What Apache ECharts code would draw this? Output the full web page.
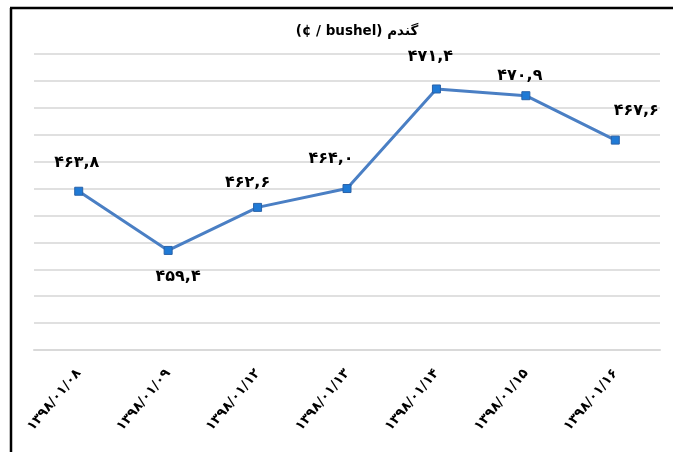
<!DOCTYPE html>
<html>
<head>
<meta charset="utf-8">
<script src="https://cdn.jsdelivr.net/npm/echarts@6/dist/echarts.min.js"></script>
<style>
html,body{margin:0;padding:0;background:#fff;}
#c{width:673px;height:452px;}
</style>
</head>
<body>
<div id="c"></div>
<script>
var titleText = '(¢ / bushel) گندم';
var categories = ['۱۳۹۸/۰۱/۰۸','۱۳۹۸/۰۱/۰۹','۱۳۹۸/۰۱/۱۲','۱۳۹۸/۰۱/۱۳','۱۳۹۸/۰۱/۱۴','۱۳۹۸/۰۱/۱۵','۱۳۹۸/۰۱/۱۶'];
var values = [463.8, 459.4, 462.6, 464.0, 471.4, 470.9, 467.6];
var yMin = 452, yMax = 474, yStep = 2;

// label layout (offsets from the marker centre)
var labelOffsets = [[-2,-28],[10,26],[-10,-25],[-16,-30],[-6,-32],[-6,-20],[21,-29]];

function toFa(v){
  var d = '۰۱۲۳۴۵۶۷۸۹';
  return v.toFixed(1).replace('.', ',').replace(/[0-9]/g, function(c){ return d[+c]; });
}

var chart = echarts.init(document.getElementById('c'));
var seriesData = values.map(function(v, i){
  return {
    value: v,
    label: { offset: labelOffsets[i] }
  };
});
chart.setOption({
  backgroundColor: '#fff',
  animation: false,
  title: {
    text: titleText,
    left: 352,
    top: 19,
    textAlign: 'center',
    textStyle: { fontFamily: 'DejaVu Sans, Liberation Sans, sans-serif', fontSize: 13.5, fontWeight: 'bold', color: '#000' }
  },
  grid: { left: 34, right: 13, top: 54, bottom: 102, containLabel: false },
  xAxis: {
    type: 'category',
    data: categories,
    boundaryGap: true,
    axisLine: { lineStyle: { color: '#d9d9d9', width: 2 } },
    axisTick: { show: false },
    axisLabel: {
      rotate: 50,
      margin: 21,
      fontFamily: 'DejaVu Sans, sans-serif',
      fontSize: 13.5,
      fontWeight: 'bold',
      color: '#000'
    }
  },
  yAxis: {
    type: 'value',
    min: yMin,
    max: yMax,
    interval: yStep,
    axisLine: { show: false },
    axisTick: { show: false },
    axisLabel: { show: false },
    splitLine: { lineStyle: { color: '#e0e0e0', width: 2 } }
  },
  series: [{
    type: 'line',
    data: seriesData,
    symbol: 'rect',
    symbolSize: 8,
    lineStyle: { color: '#4a7fc4', width: 3 },
    itemStyle: { color: '#1f7ad6', borderColor: '#2a62a8', borderWidth: 1 },
    label: {
      show: true,
      position: 'inside',
      formatter: function(p){ return toFa(p.value); },
      fontFamily: 'DejaVu Sans, sans-serif',
      fontSize: 16,
      fontWeight: 'bold',
      color: '#000'
    }
  }],
  graphic: [
    { type: 'line', shape: { x1: 11, y1: 8, x2: 11, y2: 452 }, style: { stroke: '#000', lineWidth: 2.5 } },
    { type: 'line', shape: { x1: 10, y1: 8, x2: 673, y2: 8 }, style: { stroke: '#000', lineWidth: 2.5 } }
  ]
});
</script>
</body>
</html>
